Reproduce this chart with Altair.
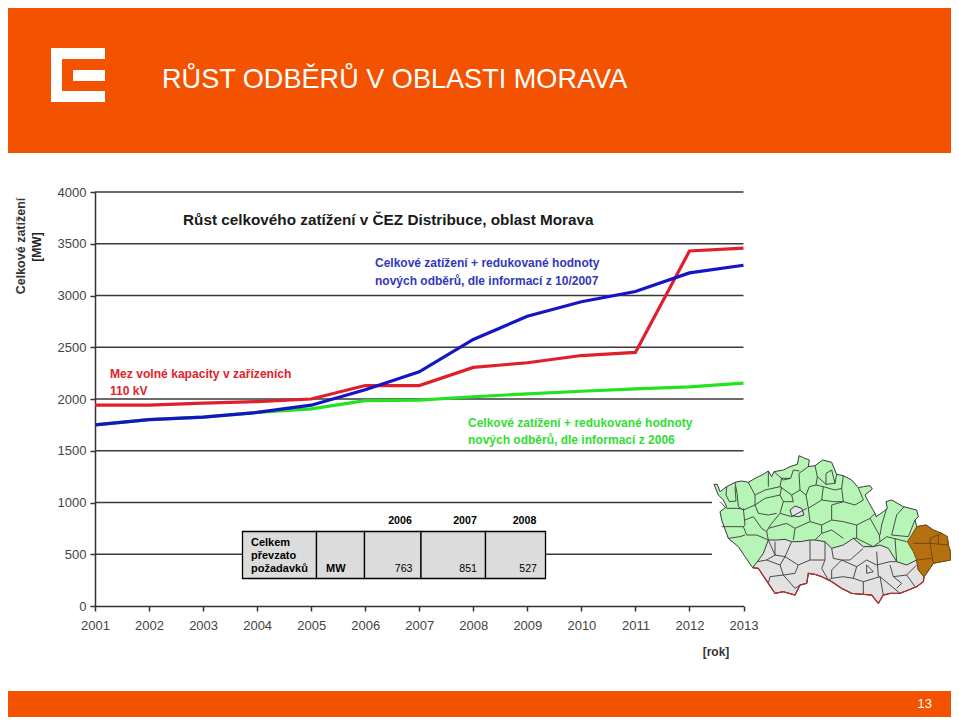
import altair as alt
import pandas as pd

# ---------- chart data ----------
years = list(range(2001, 2014))
red_limit = [1940, 1940, 1960, 1975, 2000, 2130, 2130, 2305, 2350, 2420, 2450, 3430, 3458]
blue_2007 = [1750, 1800, 1825, 1870, 1940, 2090, 2262, 2575, 2800, 2940, 3038, 3218, 3292]
green_2006 = [1750, 1800, 1825, 1870, 1905, 1985, 1990, 2022, 2050, 2075, 2098, 2118, 2154]
grid_values = [500, 1000, 1500, 2000, 2500, 3000, 3500, 4000]
y_ticks = [0] + grid_values

# ---------- table data ----------
table_years = ["2006", "2007", "2008"]
table_values = ["763", "851", "527"]
table_row = ["Celkem", "převzato", "požadavků"]

# ---------- map data (map units) ----------
north_west = [(42,118),(52,118),(60,140),(80,125),(105,112),(125,108),(145,112),(165,100),(190,88),(205,78),(215,95),(222,80),(250,75),(270,65),(292,58),(297,32),(310,38),(328,45),(325,65),(345,62),(368,45),(395,52),(410,88),(430,92),(455,105),(475,128),(490,125),(510,122),(517,132),(495,150),(505,170),(525,205),(528,215),(550,200),(562,190),(558,170),(575,165),(610,185),(650,195),(655,215),(645,225),(650,245)]
east_tip = [(678,240),(700,255),(725,265),(742,275),(745,300),(750,315),(752,345),(725,350),(700,355),(680,385),(672,395)]
south_edge = [(672,395),(670,410),(650,425),(625,435),(600,445),(570,445),(550,450),(535,475),(515,450),(490,448),(455,445),(425,430),(395,410),(385,405),(365,395),(345,388),(325,385),(320,415),(300,420),(285,450),(250,440),(225,445),(205,415),(195,400),(175,370),(158,368)]
west_edge = [(135,335),(115,305),(85,280),(65,225),(60,200),(80,185),(70,165),(55,150),(42,118)]
gray_top = [(158,368),(172,350),(190,325),(205,285),(230,285),(255,283),(275,290),(300,290),(330,285),(345,285),(375,290),(395,310),(430,300),(460,280),(490,305),(520,305),(540,300),(565,310),(590,350),(620,360),(650,345),(655,375),(672,395)]
brown_west = [(655,375),(650,345),(640,320),(622,290),(635,270),(650,245)]
prague = [(270,195),(285,183),(305,190),(312,210),(295,215),(275,212),(270,195)]
districts = [
    [(80,125),(78,150),(88,170),(108,168),(105,125)],
    [(60,170),(80,190),(110,190),(125,192)],
    [(105,112),(112,150),(115,185),(130,195),(165,180)],
    [(130,190),(135,240),(130,245),(65,245)],
    [(130,245),(140,270),(170,270),(205,285)],
    [(85,280),(120,275),(135,270)],
    [(135,225),(160,215),(185,250),(200,260),(205,285)],
    [(165,180),(175,205),(205,210),(230,205)],
    [(165,150),(195,135),(240,125),(245,100),(270,100)],
    [(205,78),(205,125)],
    [(145,112),(165,150),(165,180)],
    [(165,180),(195,160),(240,150),(245,125)],
    [(240,150),(250,170),(240,205),(215,235),(205,250),(200,260)],
    [(205,250),(260,235),(285,250),(280,285)],
    [(240,125),(275,150),(300,135),(297,85),(325,65)],
    [(222,80),(250,105),(272,100),(280,75),(298,78)],
    [(275,150),(280,170),(250,170)],
    [(300,135),(318,150),(328,125),(348,120),(352,95),(345,62)],
    [(352,95),(378,118),(405,115),(410,88)],
    [(378,118),(378,85),(395,75),(405,115)],
    [(318,150),(325,190),(365,165),(370,125),(348,120)],
    [(365,165),(400,170),(430,170),(465,180),(490,165),(475,128)],
    [(370,125),(405,135),(425,130),(430,92)],
    [(425,130),(430,170)],
    [(430,170),(395,180),(395,225),(430,230),(470,240),(510,220),(525,205)],
    [(325,190),(330,230),(365,240),(395,225)],
    [(285,250),(330,230)],
    [(240,205),(275,215),(320,190)],
    [(365,240),(365,265),(395,255),(430,280)],
    [(365,265),(345,285)],
    [(470,240),(470,280),(460,280)],
    [(470,280),(520,305),(540,290),(560,275),(620,290)],
    [(510,220),(538,270),(540,290)],
    [(560,190),(545,240),(540,270)],
    [(590,210),(575,270),(625,275),(645,225)],
    [(590,210),(612,185)],
    [(585,280),(590,350)],
    [(205,285),(225,330),(255,335),(275,290)],
    [(225,290),(225,330),(200,345),(172,350)],
    [(200,345),(240,360),(255,335)],
    [(240,360),(250,390),(210,395),(205,415)],
    [(250,390),(285,430),(300,420)],
    [(255,335),(295,360),(330,345),(330,285)],
    [(295,360),(285,385),(250,390)],
    [(330,345),(375,345),(375,290)],
    [(375,345),(365,370),(385,405)],
    [(395,310),(400,340),(425,345),(395,375),(395,400),(385,405)],
    [(425,345),(450,345),(490,310)],
    [(425,345),(470,365),(460,400),(430,395),(395,400)],
    [(470,365),(500,345),(530,360),(570,350),(590,350)],
    [(460,400),(490,410),(490,448)],
    [(490,410),(540,395),(550,450)],
    [(540,395),(600,445)],
    [(570,360),(580,395),(620,390),(650,360)],
    [(620,390),(645,425)],
    [(500,360),(520,380),(500,385),(500,360)],
    [(530,320),(535,395)],
    [(580,395),(605,415),(590,430)],
]
brown_lines = [
    [(640,295),(690,295),(745,300)],
    [(690,280),(725,265)],
    [(690,280),(690,295),(700,355)],
    [(650,345),(695,340)],
    [(715,270),(715,300)],
]

outline = north_west + east_tip + south_edge[1:] + west_edge
gray_zone = gray_top + south_edge[1:]
brown = [north_west[-1]] + east_tip + brown_west

ORANGE = "#f35300"
FONT = "Liberation Sans"
W, H = 943, 709


def ring(points):
    return {"type": "Feature", "geometry": {"type": "Polygon", "coordinates": [[list(p) for p in points]]}, "properties": {}}


def lines(parts):
    return {"type": "Feature", "geometry": {"type": "MultiLineString", "coordinates": [[list(p) for p in part] for part in parts]}, "properties": {}}


def geo(feature, **mark):
    return alt.Chart(alt.Data(values=[feature], format=alt.DataFormat(type="json"))).mark_geoshape(**mark).project(
        type="identity", scale=1 / 3, translate=[692, 437])


def box(x0, y0, x1, y1, **mark):
    # page coordinates -> view coordinates (8 px page margin)
    return alt.Chart(pd.DataFrame({"i": [0]})).mark_rect(**mark).encode(
        x=alt.value(x0 - 8), x2=alt.value(x1 - 8), y=alt.value(y0 - 8), y2=alt.value(y1 - 8))


def label(txt, x, y, size=12, color="#000000", bold=False, align="left", angle=0):
    return alt.Chart(pd.DataFrame({"t": [txt]})).mark_text(
        font=FONT, fontSize=size, color=color, fontWeight="bold" if bold else "normal",
        align=align, baseline="middle", angle=angle).encode(
        x=alt.value(x - 8), y=alt.value(y - 8), text="t:N")


xscale = alt.Scale(domain=[2001, 2013], range=[87, 735.5], nice=False, zero=False)
yscale = alt.Scale(domain=[0, 4000], range=[598, 184], nice=False, zero=False)
xaxis = alt.Axis(
    values=years, format="d", offset=-(H - 598), title=None, grid=False, labelFont=FONT, labelFontSize=13,
    labelColor="#444444", domainColor="#333333", domainWidth=1.5, tickColor="#333333", tickWidth=1.5,
    tickSize=5, labelPadding=8, labelFlush=False, labelOverlap=False)
yaxis = alt.Axis(
    values=y_ticks, format="d", offset=-87, title=None, grid=False, labelFont=FONT, labelFontSize=13,
    labelColor="#444444", domainColor="#333333", domainWidth=1.5, tickColor="#333333", tickWidth=1.5,
    tickSize=5, labelPadding=4, labelFlush=False, labelOverlap=False)

grid = alt.Chart(pd.DataFrame({"v": grid_values, "a": [2001] * len(grid_values), "b": [2013] * len(grid_values)})).mark_rule(
    color="#3a3a3a", strokeWidth=1.6).encode(
    x=alt.X("a:Q", scale=xscale, axis=xaxis),
    x2="b:Q",
    y=alt.Y("v:Q", scale=yscale, axis=yaxis),
)


def series(values, color):
    df = pd.DataFrame({"rok": years, "mw": values})
    return alt.Chart(df).mark_line(color=color, strokeWidth=3.2, strokeJoin="miter").encode(
        x=alt.X("rok:Q", scale=xscale, axis=xaxis), y=alt.Y("mw:Q", scale=yscale, axis=yaxis))


layers = [
    box(8, 8, 951, 153, fill=ORANGE),
    box(8, 691, 951, 717, fill=ORANGE),
    # logo
    box(51, 48, 105, 102, fill="#ffffff"),
    box(62, 59, 105, 91, fill=ORANGE),
    box(73, 70, 105, 81, fill="#ffffff"),
    label("RŮST ODBĚRŮ V OBLASTI MORAVA", 162, 80, size=27.1, color="#ffffff"),
    label("13", 932, 704, size=13, color="#ffffff", align="right"),
    grid,
    series(green_2006, "#22e322"),
    series(red_limit, "#e01f2d"),
    series(blue_2007, "#1515c4"),
    label("Růst celkového zatížení v ČEZ Distribuce, oblast Morava", 183, 220, size=15.3, bold=True, color="#1a1a1a"),
    label("Celkové zatížení + redukované hodnoty", 375, 263, size=12, bold=True, color="#3338b8"),
    label("nových odběrů, dle informací z 10/2007", 375, 281, size=12, bold=True, color="#3338b8"),
    label("Mez volné kapacity v zařízeních", 110, 374, size=12.1, bold=True, color="#e0242c"),
    label("110 kV", 110, 391, size=12.1, bold=True, color="#e0242c"),
    label("Celkové zatížení + redukované hodnoty", 468, 423, size=12, bold=True, color="#33dd33"),
    label("nových odběrů, dle informací z 2006", 468, 440, size=12, bold=True, color="#33dd33"),
    label("Celkové zatížení", 21, 246, size=12.5, bold=True, color="#333333", align="center", angle=270),
    label("[MW]", 37, 247, size=12, bold=True, color="#222222", align="center", angle=270),
    label("[rok]", 716, 652, size=12, bold=True, color="#333333", align="center"),
    # white ground of the map picture
    box(712, 454, 951, 603, fill="#ffffff"),
]

# table
cols = [242.5, 316.5, 364.5, 421, 485.5, 545.5]
for i in range(5):
    layers.append(box(cols[i], 531.5, cols[i + 1], 578.5, fill="#dcdcdc", stroke="#000000", strokeWidth=1.3))
for txt, x in zip(table_years, [400, 465, 524.5]):
    layers.append(label(txt, x, 521, size=10.6, bold=True, align="center"))
for txt, y in zip(table_row, [543, 556, 569]):
    layers.append(label(txt, 251, y, size=11, bold=True))
layers.append(label("MW", 326, 569, size=11, bold=True))
for txt, x in zip(table_values, [412.5, 477, 537]):
    layers.append(label(txt, x, 569, size=10.6, align="right"))

# map
layers += [
    geo(ring(outline), fill="#b6f5b6", stroke="#3a3a3a", strokeWidth=1),
    geo(ring(gray_zone), fill="#e2e2e2", stroke="#3a3a3a", strokeWidth=1),
    geo(ring(prague), fill="#e2e2ea", stroke="#3a3a3a", strokeWidth=1),
    geo(ring(brown), fill="#b5700f", stroke="#7a4a10", strokeWidth=1),
    geo(lines(districts), filled=False, stroke="#3a3a3a", strokeWidth=0.9),
    geo(lines(brown_lines), filled=False, stroke="#6e430c", strokeWidth=0.9),
    geo(lines([south_edge]), filled=False, stroke="#b03030", strokeWidth=1.3),
]

chart = alt.layer(*layers).properties(
    width=W, height=H, padding=0, autosize=alt.AutoSizeParams(type="none"),
).configure_view(stroke=None)

chart.save("out.html", embed_options={"renderer": "svg", "actions": False})
